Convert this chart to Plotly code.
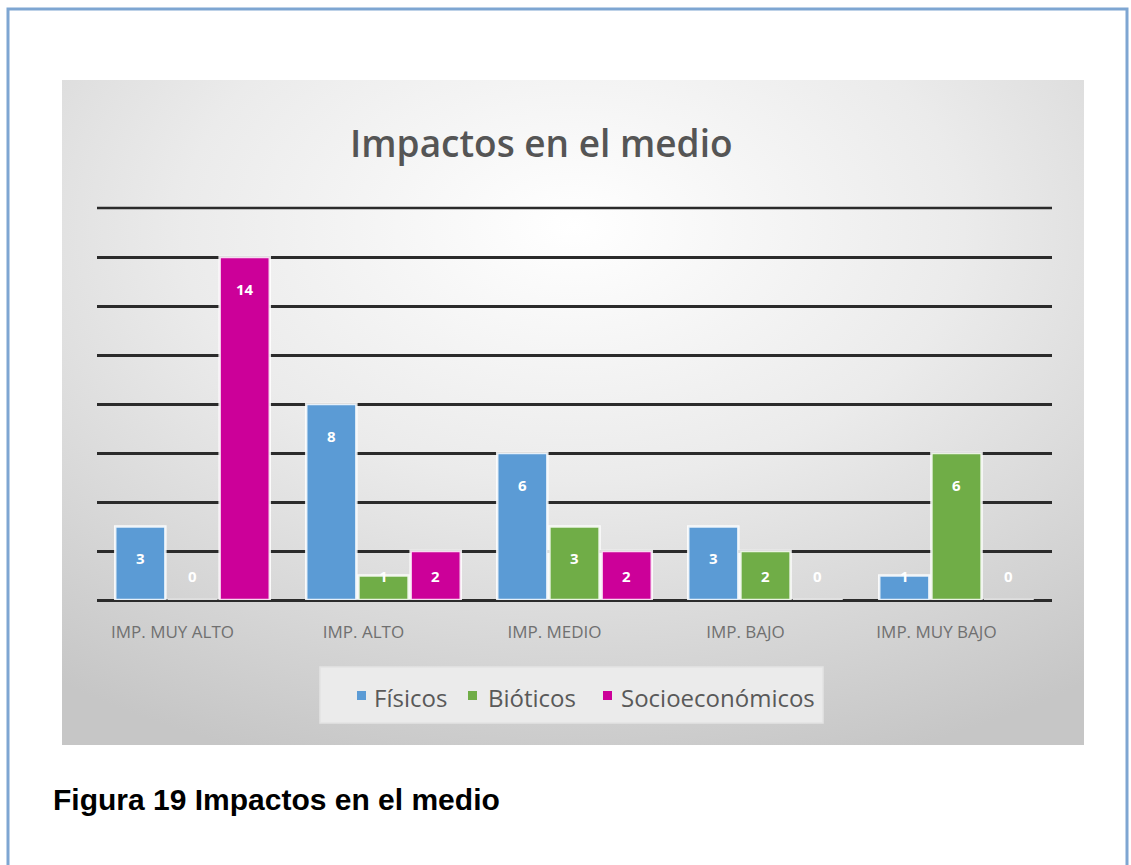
import base64
import plotly.graph_objects as go

# Data
categories = ["IMP. MUY ALTO", "IMP. ALTO", "IMP. MEDIO", "IMP. BAJO", "IMP. MUY BAJO"]
fisicos = [3, 8, 6, 3, 1]
bioticos = [0, 1, 3, 2, 6]
socioeconomicos = [14, 2, 2, 0, 0]

series_names = ["Físicos", "Bióticos", "Socioeconómicos"]
series_values = [fisicos, bioticos, socioeconomicos]
series_colors = ["#5b9bd5", "#70ad47", "#cc0099"]

W, H = 1131, 865
PL, PR, PT, PB = 97, 1052, 208, 600  # plot area in pixels
Y_MAX = 16
BARGAP, GROUPGAP = 0.18, 0.04
GRID = "#2b2b2b"


def px_x(px):
    return (px - PL) / (PR - PL)


def px_y(py):
    return (PB - py) / (PB - PT)


fig = go.Figure()

for name, vals, col in zip(series_names, series_values, series_colors):
    fig.add_trace(go.Bar(
        x=list(range(len(categories))), y=vals, name=name,
        marker=dict(color=col, line=dict(color="rgba(255,255,255,0.85)", width=2.5)),
        hoverinfo="skip", showlegend=False,
    ))

# value labels near the top of each bar
slot = (1 - BARGAP) / len(series_names)
annotations = []
for s, vals in enumerate(series_values):
    off = (s - (len(series_names) - 1) / 2) * slot
    for i, v in enumerate(vals):
        annotations.append(dict(
            x=i + off, y=max(v - 1.3, 1.0), xref="x", yref="y",
            xanchor="center", yanchor="middle",
            text=f"<b>{v}</b>", showarrow=False,
            font=dict(family="Open Sans, sans-serif", size=15, color="white"),
        ))

# title and caption
annotations.append(dict(
    x=px_x(541), y=px_y(142), xref="paper", yref="paper",
    xanchor="center", yanchor="middle",
    text="Impactos en el medio", showarrow=False,
    font=dict(family="Open Sans, sans-serif", size=37, color="#555555", weight=600),
))
annotations.append(dict(
    x=px_x(51), y=px_y(799), xref="paper", yref="paper",
    xanchor="left", yanchor="middle",
    text="<b>Figura 19 Impactos en el medio</b>", showarrow=False,
    font=dict(family="Liberation Sans, Arial, sans-serif", size=30, color="black"),
))

# legend drawn as square keys plus labels inside a light panel
legend_key_x = [357, 468, 603]
legend_text_x = [372, 486, 619]
shapes = [
    # outer frame
    dict(type="rect", xref="paper", yref="paper",
         x0=px_x(8), x1=px_x(1127), y0=px_y(9), y1=px_y(880),
         line=dict(color="#7ea6d2", width=3), fillcolor="rgba(0,0,0,0)", layer="below"),
    # legend panel
    dict(type="rect", xref="paper", yref="paper",
         x0=px_x(320), x1=px_x(823), y0=px_y(667), y1=px_y(723),
         line=dict(color="#e4e4e4", width=1.5), fillcolor="#ebebeb", layer="below"),
    # top gridline at the axis maximum
    dict(type="line", xref="paper", yref="paper", x0=0, x1=1, y0=1, y1=1,
         line=dict(color=GRID, width=2.5), layer="below"),
]
for kx, tx, name, col in zip(legend_key_x, legend_text_x, series_names, series_colors):
    shapes.append(dict(type="rect", xref="paper", yref="paper",
                       x0=px_x(kx), x1=px_x(kx + 9), y0=px_y(691), y1=px_y(700),
                       line=dict(width=0), fillcolor=col))
    annotations.append(dict(
        x=px_x(tx), y=px_y(697), xref="paper", yref="paper",
        xanchor="left", yanchor="middle",
        text=name, showarrow=False,
        font=dict(family="Open Sans, sans-serif", size=24, color="#595959"),
    ))

# soft grey radial backdrop of the chart
svg = (
    '<svg xmlns="http://www.w3.org/2000/svg" width="1022" height="665" preserveAspectRatio="none">'
    '<defs><radialGradient id="g" cx="0.5" cy="0.22" r="0.85">'
    '<stop offset="0" stop-color="#ffffff"/>'
    '<stop offset="0.45" stop-color="#ebebeb"/>'
    '<stop offset="1" stop-color="#c6c6c6"/>'
    '</radialGradient></defs>'
    '<rect width="1022" height="665" fill="url(#g)"/></svg>'
)
svg_uri = "data:image/svg+xml;base64," + base64.b64encode(svg.encode()).decode()
gx0, gx1, gy0, gy1 = 62, 1084, 80, 745

fig.update_layout(
    width=W, height=H,
    margin=dict(l=PL, r=W - PR, t=PT, b=H - PB, pad=0),
    paper_bgcolor="white", plot_bgcolor="rgba(0,0,0,0)",
    barmode="group", bargap=BARGAP, bargroupgap=GROUPGAP,
    showlegend=False,
    images=[dict(source=svg_uri, xref="paper", yref="paper",
                 x=px_x(gx0), y=px_y(gy0), sizex=px_x(gx1) - px_x(gx0),
                 sizey=px_y(gy0) - px_y(gy1), sizing="stretch", layer="below")],
    shapes=shapes,
    annotations=annotations,
    xaxis=dict(
        range=[-0.5, len(categories) - 0.5], tickmode="array",
        tickvals=list(range(len(categories))), ticktext=categories,
        showgrid=False, zeroline=False, showline=False, ticks="",
        tickfont=dict(family="Open Sans, sans-serif", size=17, color="#707070"),
        ticklabelshift=-20, ticklabelstandoff=20,
    ),
    yaxis=dict(
        range=[0, Y_MAX], dtick=2, showticklabels=False,
        showgrid=True, gridcolor=GRID, gridwidth=2.5,
        zeroline=True, zerolinecolor=GRID, zerolinewidth=2.5,
        showline=False, ticks="",
    ),
)

fig.write_html("out.html")
